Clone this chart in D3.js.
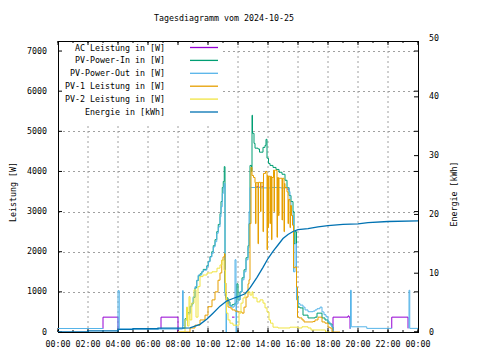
<!DOCTYPE html>
<html>
<head>
<meta charset="utf-8">
<script src="https://cdn.jsdelivr.net/npm/d3@7"></script>
<style>
  html, body { margin: 0; padding: 0; background: #fff; overflow: hidden; }
  svg { display: block; }
  svg text { font-family: "DejaVu Sans Mono", monospace; font-size: 8.3px; fill: #000; }
</style>
</head>
<body>
<script>
// DATA  (time "HH:MM", value) - null breaks the line

const seriesNames = ["AC Leistung in [W]", "PV-Power-In in [W]", "PV-Power-Out in [W]",
                     "PV-1 Leistung in [W]", "PV-2 Leistung in [W]", "Energie in [kWh]"];
const seriesColors = ["#9400d3", "#009e73", "#56b4e9", "#e69f00", "#f0e442", "#0072b2"];

const acLeistung = [
  ["03:00", 80], ["03:00", 370], ["04:00", 80], ["04:00", null],
  ["06:52", 80], ["06:52", 370], ["08:00", 0], ["08:00", null],
  ["11:36", 370], ["11:46", 370], ["11:46", null],
  ["13:14", 3620], ["13:20", 3620], ["13:20", null],
  ["13:27", 3620], ["13:34", 3620], ["13:34", null],
  ["13:36", 3620], ["13:44", 3620], ["13:44", null],
  ["15:16", 3560], ["15:24", 3560], ["15:24", null],
  ["18:20", 0], ["18:20", 370], ["19:20", 370], ["19:20", 400], ["19:24", 370], ["19:28", 80], ["19:28", null],
  ["22:15", 90], ["22:15", 370], ["23:20", 90]
];

const pvPowerIn = [
  ["08:20", 100], ["08:28", 330], ["08:36", 480], ["08:48", 640], ["08:55", 700], ["09:01", 860],
  ["09:08", 1100], ["09:15", 1280], ["09:21", 1400], ["09:28", 1450], ["09:35", 1500], ["09:41", 1560],
  ["09:55", 1650], ["10:01", 1760], ["10:08", 1880], ["10:15", 2000], ["10:21", 2150], ["10:28", 2300],
  ["10:35", 2500], ["10:41", 2680], ["10:48", 2950], ["10:52", 3250], ["10:57", 3600], ["11:01", 3750],
  ["11:05", 4120], ["11:08", 1000], ["11:12", 850], ["11:20", 750], ["11:28", 650], ["11:36", 680],
  ["11:44", 700], ["11:52", 750], ["11:55", 1200], ["12:00", 800], ["12:08", 1000], ["12:16", 1350],
  ["12:24", 1550], ["12:32", 1850], ["12:40", 2150], ["12:44", 2700], ["12:48", 4150], ["12:54", 4000],
  ["12:56", 5400], ["12:58", 4950], ["13:04", 4700], ["13:08", 4580], ["13:20", 4560], ["13:26", 4480],
  ["13:32", 4480], ["13:40", 4600], ["13:48", 4650], ["13:52", 4800], ["13:56", 4330], ["14:02", 4200],
  ["14:08", 4150], ["14:20", 4100], ["14:32", 4050], ["14:44", 3980], ["14:56", 3930], ["15:08", 3780],
  ["15:16", 3600], ["15:24", 3400], ["15:32", 3250], ["15:40", 3000], ["15:44", 2200], ["15:48", 2500],
  ["15:54", 900], ["16:00", 620], ["16:08", 600], ["16:20", 420], ["16:40", 350], ["17:00", 350],
  ["17:08", 370], ["17:16", 470], ["17:28", 470], ["17:36", 350], ["17:48", 300], ["18:00", 220],
  ["18:08", 200], ["18:16", 125], ["18:20", 0]
];

const pvPowerOut = [
  ["00:00", 87], ["03:00", 87], ["03:00", null],
  ["04:00", 75], ["04:00", 1030], ["04:05", 75], ["08:18", 75], ["08:18", 1030], ["08:21", 150],
  ["08:28", 300], ["08:36", 450], ["08:48", 630], ["08:55", 720], ["09:01", 880], ["09:08", 1130],
  ["09:15", 1290], ["09:21", 1420], ["09:28", 1420], ["09:35", 1500], ["09:41", 1540], ["09:55", 1630],
  ["10:01", 1750], ["10:08", 1870], ["10:15", 1960], ["10:21", 2120], ["10:28", 2250], ["10:35", 2460],
  ["10:41", 2620], ["10:48", 2870], ["10:52", 3120], ["10:57", 3450], ["11:01", 3580], ["11:05", 3700],
  ["11:08", 900], ["11:12", 0], ["11:14", 800], ["11:20", 700], ["11:28", 650], ["11:36", 620],
  ["11:44", 650], ["11:48", 1800], ["11:52", 0], ["11:54", 700], ["12:00", 800], ["12:08", 1000],
  ["12:16", 1300], ["12:24", 1500], ["12:32", 1800], ["12:40", 2100], ["12:44", 3000], ["12:48", 3600],
  ["13:30", 3590], ["14:10", 3600], ["14:50", 3590], ["15:24", 3500], ["15:28", 3250], ["15:32", 3000],
  ["15:36", 2900], ["15:42", 1500], ["15:48", 2200], ["15:54", 800], ["16:00", 710], ["16:08", 670],
  ["16:20", 620], ["16:28", 550], ["16:40", 505], ["16:52", 505], ["17:00", 520], ["17:08", 550],
  ["17:16", 580], ["17:28", 620], ["17:36", 500], ["17:44", 430], ["17:52", 380], ["18:00", 250],
  ["18:08", 175], ["18:16", 125], ["18:20", 0], ["18:20", null],
  ["19:30", 80], ["19:30", 1040], ["19:33", 130], ["20:35", 90], ["22:15", 90], ["22:15", null],
  ["23:24", 90], ["23:24", 1040], ["23:27", 90], ["24:00", 90]
];

const pv1Leistung = [
  ["08:00", 0], ["08:48", 100], ["09:08", 170], ["09:28", 300], ["09:48", 420], ["10:00", 630],
  ["10:16", 800], ["10:28", 1000], ["10:40", 1290], ["10:48", 1470], ["10:55", 1790], ["11:00", 1870],
  ["11:06", 1950], ["11:08", 1220], ["11:12", 800], ["11:20", 620], ["11:28", 600], ["11:36", 550],
  ["11:48", 520], ["12:00", 500], ["12:16", 470], ["12:24", 620], ["12:32", 870], ["12:40", 1200],
  ["12:44", 1300], ["12:48", 2700], ["12:52", 4100], ["12:56", 3900], ["13:02", 3850], ["13:08", 3720],
  ["13:10", 2700], ["13:12", 3720], ["13:20", 2200], ["13:22", 3730], ["13:30", 3000], ["13:32", 3720],
  ["13:40", 2500], ["13:42", 3950], ["13:50", 4000], ["13:56", 2050], ["13:58", 3900], ["14:00", 2600],
  ["14:02", 3880], ["14:08", 2700], ["14:10", 3880], ["14:14", 2300], ["14:16", 3850], ["14:22", 4030],
  ["14:24", 3000], ["14:26", 4030], ["14:30", 4030], ["14:36", 2360], ["14:38", 3850], ["14:42", 2900],
  ["14:44", 3830], ["14:48", 3830], ["14:56", 2790], ["14:58", 3830], ["15:04", 2500], ["15:06", 3700],
  ["15:08", 3600], ["15:16", 3490], ["15:20", 2700], ["15:22", 3300], ["15:28", 2600], ["15:30", 3150],
  ["15:34", 2900], ["15:38", 2660], ["15:42", 1600], ["15:48", 1620], ["15:54", 1120], ["15:58", 370],
  ["16:04", 350], ["16:16", 300], ["16:24", 250], ["16:52", 250], ["17:00", 260], ["17:08", 300],
  ["17:20", 370], ["17:28", 370], ["17:36", 250], ["17:48", 220], ["18:00", 120], ["18:08", 100],
  ["18:16", 0], ["18:48", 0]
];

const pv2Leistung = [
  ["08:00", 0], ["08:20", 0], ["08:28", 300], ["08:34", 620], ["08:38", 150], ["08:44", 880],
  ["08:48", 300], ["08:55", 720], ["09:04", 1050], ["09:12", 370], ["09:20", 1130], ["09:28", 1380],
  ["09:40", 1420], ["09:56", 1470], ["10:16", 1500], ["10:36", 1590], ["10:48", 1670], ["10:56", 1790],
  ["11:04", 1540], ["11:10", 970], ["11:14", 470], ["11:20", 300], ["11:28", 220], ["11:40", 170],
  ["12:00", 170], ["12:04", 470], ["12:12", 720], ["12:20", 850], ["12:28", 970], ["12:36", 1000],
  ["12:48", 920], ["12:56", 1000], ["13:00", 850], ["13:16", 750], ["13:28", 800], ["13:40", 720],
  ["13:48", 600], ["13:56", 500], ["14:04", 300], ["14:10", 220], ["14:20", 120], ["14:40", 100],
  ["15:08", 100], ["15:28", 120], ["16:00", 100], ["16:16", 130], ["16:28", 130], ["16:40", 100],
  ["16:52", 50], ["17:30", 50], ["17:50", 0], ["18:08", 0]
];

const energie = [
  ["00:00", 0], ["02:00", 0], ["02:00", 0.2], ["04:00", 0.2], ["04:00", 0.45], ["05:00", 0.45],
  ["05:00", 0.55], ["06:40", 0.55], ["06:40", 0.65], ["08:00", 0.65], ["08:48", 0.7], ["09:28", 1.3],
  ["09:56", 2.2], ["10:20", 3.2], ["10:48", 4.4], ["11:16", 5.3], ["11:40", 5.7], ["12:00", 6.0],
  ["12:28", 6.5], ["12:48", 7.5], ["13:16", 9.3], ["13:40", 11.0], ["14:00", 12.5], ["14:20", 13.7],
  ["14:40", 14.8], ["15:00", 15.9], ["15:20", 16.6], ["15:40", 17.1], ["16:00", 17.4], ["16:40", 17.6],
  ["17:20", 17.9], ["18:00", 18.1], ["19:00", 18.3], ["20:00", 18.4], ["20:40", 18.6], ["22:00", 18.8],
  ["24:00", 18.9]
];

const leistungTicks = [0, 1000, 2000, 3000, 4000, 5000, 6000, 7000];
const energieTicks = [0, 10, 20, 30, 40, 50];

// LAYOUT

const width = 480, height = 360;
const margin = { top: 41, right: 62, bottom: 28, left: 58 };
const innerWidth = width - margin.left - margin.right;
const innerHeight = height - margin.top - margin.bottom;

const parseTime = s => {
  const [h, m] = s.split(":").map(Number);
  return new Date(2024, 9, 25, h, m);
};

const svg = d3.select("body").append("svg")
  .attr("width", width).attr("height", height)
  .attr("viewBox", `0 0 ${width} ${height}`);

const g = svg.append("g")
  .attr("transform", `translate(${margin.left},${margin.top})`);

const x = d3.scaleTime()
  .domain([parseTime("00:00"), parseTime("24:00")])
  .range([0, innerWidth]);

const y = d3.scaleLinear()
  .domain([0, 7250])
  .range([innerHeight, 0]);

const y2 = d3.scaleLinear()
  .domain([0, 49.5])
  .range([innerHeight, 0]);

const majorHours = x.ticks(d3.timeHour.every(2));
const minorHours = x.ticks(d3.timeHour.every(1));

// grid
g.append("g").selectAll("line")
  .data(majorHours.slice(1, -1))
  .enter().append("line")
  .attr("x1", d => x(d)).attr("x2", d => x(d))
  .attr("y1", 0).attr("y2", innerHeight)
  .attr("stroke", "#a0a0a0").attr("stroke-dasharray", "2,3");

g.append("g").selectAll("line")
  .data(leistungTicks.slice(1))
  .enter().append("line")
  .attr("x1", 0).attr("x2", innerWidth)
  .attr("y1", d => Math.round(y(d)) + 0.5).attr("y2", d => Math.round(y(d)) + 0.5)
  .attr("stroke", "#a0a0a0").attr("stroke-dasharray", "2,3");

// opaque key area
g.append("rect")
  .attr("x", 1).attr("y", 1)
  .attr("width", 164).attr("height", 84)
  .attr("fill", "#fff");

// tick marks (inward, no labels)
function tickMarks(values, pos, len, horizontal, at) {
  g.append("g").selectAll("line")
    .data(values)
    .enter().append("line")
    .attr("x1", d => horizontal ? pos(d) : at)
    .attr("x2", d => horizontal ? pos(d) : at + len)
    .attr("y1", d => horizontal ? at : pos(d))
    .attr("y2", d => horizontal ? at + len : pos(d))
    .attr("stroke", "#000");
}

tickMarks(majorHours, x, -4, true, innerHeight);
tickMarks(minorHours, x, -2, true, innerHeight);
tickMarks(majorHours, x, 4, true, 0);
tickMarks(minorHours, x, 2, true, 0);
tickMarks(leistungTicks, y, 4, false, 0);
tickMarks(leistungTicks, y, -4, false, innerWidth);
tickMarks(energieTicks.filter(d => y2(d) >= 0), y2, -4, false, innerWidth);

// border
g.append("rect")
  .attr("x", 0.5).attr("y", 0.5)
  .attr("width", innerWidth).attr("height", innerHeight)
  .attr("fill", "none").attr("stroke", "#000");

// lines
g.append("clipPath").attr("id", "clip")
  .append("rect").attr("width", innerWidth).attr("height", innerHeight);

const plot = g.append("g").attr("clip-path", "url(#clip)");

const allSeries = [acLeistung, pvPowerIn, pvPowerOut, pv1Leistung, pv2Leistung, energie];

allSeries.forEach((data, i) => {
  const isEnergy = i === 5;
  const scaleY = isEnergy ? y2 : y;
  const line = d3.line()
    .defined(d => d[1] !== null)
    .x(d => x(parseTime(d[0])))
    .y(d => scaleY(d[1]))
    .curve(isEnergy ? d3.curveLinear : d3.curveStepAfter);
  plot.append("path")
    .datum(data)
    .attr("d", line)
    .attr("fill", "none")
    .attr("stroke", seriesColors[i])
    .attr("stroke-width", isEnergy ? 1.3 : 1);
});

// key lines
seriesNames.forEach((name, i) => {
  const ky = 6.5 + i * 12.9;
  g.append("line")
    .attr("x1", 132).attr("x2", 160)
    .attr("y1", ky).attr("y2", ky)
    .attr("stroke", seriesColors[i]).attr("stroke-width", 1.3);
});

// all texts on top
const labels = svg.append("g").attr("class", "labels");
const fmt = d3.timeFormat("%H:%M");

labels.selectAll("text.xt")
  .data(majorHours)
  .enter().append("text")
  .attr("class", "xt")
  .attr("x", d => margin.left + x(d)).attr("y", margin.top + innerHeight + 15)
  .attr("text-anchor", "middle")
  .text(d => fmt(d));

labels.selectAll("text.yt")
  .data(leistungTicks)
  .enter().append("text")
  .attr("class", "yt")
  .attr("x", margin.left - 11).attr("y", d => margin.top + y(d) + 2.5)
  .attr("text-anchor", "end")
  .text(d => d3.format("d")(d));

labels.selectAll("text.y2t")
  .data(energieTicks)
  .enter().append("text")
  .attr("class", "y2t")
  .attr("x", margin.left + innerWidth + 11).attr("y", d => margin.top + y2(d) + 2.5)
  .attr("text-anchor", "start")
  .text(d => d3.format("d")(d));

labels.selectAll("text.key")
  .data(seriesNames)
  .enter().append("text")
  .attr("class", "key")
  .attr("x", margin.left + 107).attr("y", (d, i) => margin.top + 9.5 + i * 12.9)
  .attr("text-anchor", "end")
  .text(d => d);

labels.append("text")
  .attr("x", 224).attr("y", 21)
  .attr("text-anchor", "middle")
  .text("Tagesdiagramm vom 2024-10-25");

labels.append("text")
  .attr("transform", "translate(16,192) rotate(-90)")
  .attr("text-anchor", "middle")
  .text("Leistung [W]");

labels.append("text")
  .attr("transform", "translate(457,194) rotate(-90)")
  .attr("text-anchor", "middle")
  .text("Energie [kWh]");
</script>
</body>
</html>
